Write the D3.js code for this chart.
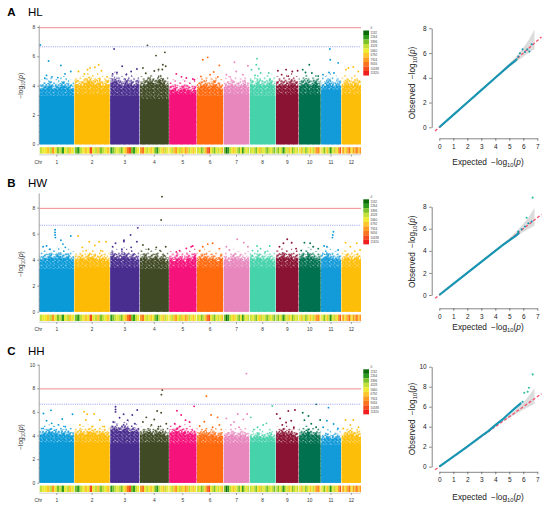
<!DOCTYPE html>
<html>
<head>
<meta charset="utf-8">
<script src="https://cdn.jsdelivr.net/npm/d3@7"></script>
<style>
body { margin: 0; background: #fff; }
svg { display: block; font-family: "Liberation Sans", Arial, sans-serif; }
</style>
</head>
<body>
<svg id="chart" width="550" height="510"></svg>
<script>
// ---- chromosomes ----
const chromosomes = ['1', '2', '3', '4', '5', '6', '7', '8', '9', '10', '11', '12'];
const chrLength = [34.5, 35.2, 29.2, 28.8, 27.2, 26.2, 25.6, 25.6, 22.4, 21.5, 19.9, 19.5];
const chrColors = ['#0b9ad8', '#fdbb06', '#4a2e8f', '#404b25', '#f5137b', '#ff6a0e',
                   '#e887be', '#46d2aa', '#8a1232', '#00714e', '#129ad9', '#fdbe0a'];

// ---- SNP density legend + strip (bin index 0..9) ----
const densityLabels = ['0', '1132', '2264', '3396', '4528', '5660', '6792', '7924', '9056', '10188', '11320'];
const densityColors = ['#0b6b0b', '#2c9a1d', '#7cc22b', '#c3e03a', '#eeea30',
                       '#fdc62a', '#fc9a22', '#f9741d', '#f54a1c', '#f01e1e'];
const densityStrip = [
  [3, 4, 4, 5, 3, 6, 4, 2, 3, 1, 4, 3, 5, 4],
  [2, 1, 3, 4, 5, 4, 8, 4, 3, 5, 2, 3, 4, 5],
  [1, 2, 3, 4, 3, 2, 4, 5, 7, 8, 2, 1, 3, 4],
  [6, 7, 4, 3, 4, 5, 4, 2, 1, 3, 4, 5, 3, 4],
  [4, 3, 5, 6, 4, 3, 5, 4, 6, 5, 3, 4, 5, 4],
  [3, 4, 2, 3, 5, 7, 8, 4, 3, 2, 4, 3, 4, 5],
  [2, 0, 1, 3, 4, 5, 4, 3, 2, 4, 1, 3, 4, 3],
  [3, 4, 3, 2, 4, 5, 3, 4, 3, 2, 3, 4, 3, 2],
  [3, 2, 4, 3, 1, 2, 4, 3, 5, 4, 2, 3, 4, 3],
  [4, 5, 3, 4, 2, 3, 4, 5, 4, 3, 5, 6, 7, 5],
  [4, 3, 2, 4, 5, 3, 1, 2, 4, 3, 5, 4, 6, 8],
  [5, 6, 4, 5, 6, 7, 5, 4, 6, 5, 7, 6, 5, 6]
];

// suggestive / significant thresholds (-log10 p)
const thresholds = [6.65, 7.95];

const traits = ['HL', 'HW', 'HH'];
const panelLetters = ['A', 'B', 'C'];

// ---- Manhattan: solid core top, cloud top (8 steps per chr), single hits [chr, pos 0-1, -log10p] ----
const yTicksHL = [0, 2, 4, 6, 8];
const coreHL = [3.3, 3.4, 3.3, 3.1, 3.4, 3.3, 3.4, 3.3, 3.4, 3.4, 3.7, 3.4];
const fuzzHL = [
  [4.1, 4.2, 4.3, 4.1, 4.2, 4.3, 4.2, 4.1], [4.4, 4.3, 4.5, 4.6, 4.4, 4.5, 4.3, 4.4],
  [4.5, 4.6, 4.4, 4.3, 4.5, 4.4, 4.3, 4.4], [4.3, 4.4, 4.6, 4.5, 4.4, 4.7, 4.5, 4.3],
  [4.0, 4.1, 3.9, 4.0, 4.1, 4.0, 3.9, 4.0], [4.2, 4.3, 4.4, 4.2, 4.3, 4.4, 4.2, 4.1],
  [4.2, 4.3, 4.4, 4.3, 4.2, 4.3, 4.4, 4.2], [4.4, 4.3, 4.5, 4.4, 4.3, 4.4, 4.5, 4.3],
  [4.3, 4.4, 4.3, 4.4, 4.3, 4.5, 4.4, 4.3], [4.3, 4.4, 4.5, 4.4, 4.3, 4.4, 4.5, 4.3],
  [4.2, 4.3, 4.4, 4.5, 4.3, 4.2, 4.4, 4.3], [4.3, 4.4, 4.5, 4.4, 4.3, 4.5, 4.4, 4.3]
];
const hitsHL = [
  [1, .02, 6.78], [1, .26, 5.68], [1, .62, 5.38], [1, .2, 4.7], [1, .36, 4.6], [1, .91, 4.97], [1, .74, 4.8], [1, .15, 4.5], [1, .53, 4.55],
  [2, .69, 5.43], [2, .58, 5.25], [2, .44, 5.2], [2, .37, 5.09], [2, .11, 4.97], [2, .77, 5.02], [2, .28, 4.8], [2, .93, 4.6],
  [3, .13, 6.5], [3, .41, 5.32], [3, .23, 4.9], [3, .72, 4.97], [3, .92, 5.14], [3, .08, 4.8], [3, .55, 4.75],
  [4, .26, 6.75], [4, .87, 6.27], [4, .56, 6.05], [4, .8, 5.43], [4, .9, 5.32], [4, .1, 5.2], [4, .78, 5.1], [4, .5, 5.0], [4, .65, 5.1], [4, .2, 4.85],
  [5, .63, 4.52], [5, .87, 4.45], [5, .26, 4.8], [5, .93, 4.4], [5, .45, 4.6],
  [6, .41, 5.93], [6, .22, 5.77], [6, .86, 5.38], [6, .64, 4.93], [6, .15, 4.63], [6, .5, 4.75], [6, .8, 4.6],
  [7, .42, 5.6], [7, .95, 5.36], [7, .49, 4.97], [7, .1, 4.75], [7, .75, 4.75], [7, .25, 4.6],
  [8, .28, 5.84], [8, .25, 5.43], [8, .42, 4.86], [8, .06, 5.09], [8, .35, 5.15], [8, .74, 4.86], [8, .2, 4.7],
  [9, .08, 5.02], [9, .45, 5.09], [9, .73, 4.97], [9, .97, 5.02], [9, .25, 4.75], [9, .55, 4.65],
  [10, .48, 5.43], [10, .17, 5.09], [10, .3, 4.9], [10, .6, 4.86], [10, .9, 4.65],
  [11, .44, 6.5], [11, .46, 5.77], [11, .86, 5.55], [11, .09, 4.75], [11, .4, 4.9], [11, .65, 4.86],
  [12, .22, 5.09], [12, .6, 5.27], [12, .35, 5.2], [12, .86, 4.97]
];

const yTicksHW = [0, 2, 4, 6, 8];
const coreHW = [3.3, 3.4, 3.4, 3.3, 3.4, 3.4, 3.4, 3.4, 3.4, 3.4, 3.4, 3.4];
const fuzzHW = [
  [4.3, 4.4, 4.5, 4.4, 4.6, 4.4, 4.5, 4.3], [4.3, 4.4, 4.3, 4.5, 4.4, 4.3, 4.4, 4.2],
  [4.6, 4.5, 4.4, 4.6, 4.5, 4.4, 4.5, 4.3], [4.4, 4.5, 4.3, 4.4, 4.5, 4.3, 4.4, 4.2],
  [4.3, 4.2, 4.4, 4.3, 4.2, 4.4, 4.3, 4.5], [4.3, 4.4, 4.5, 4.3, 4.4, 4.3, 4.2, 4.4],
  [4.3, 4.2, 4.4, 4.5, 4.3, 4.4, 4.2, 4.3], [4.4, 4.3, 4.5, 4.4, 4.3, 4.4, 4.3, 4.2],
  [4.4, 4.5, 4.6, 4.5, 4.4, 4.5, 4.3, 4.4], [4.4, 4.5, 4.4, 4.6, 4.5, 4.4, 4.3, 4.4],
  [4.4, 4.5, 4.6, 4.5, 4.4, 4.3, 4.4, 4.3], [4.3, 4.4, 4.5, 4.4, 4.3, 4.4, 4.5, 4.3]
];
const hitsHW = [
  [1, .45, 6.3], [1, .45, 6.1], [1, .45, 5.9], [1, .46, 5.7], [1, .62, 5.5], [1, .91, 5.82], [1, .2, 5.05], [1, .1, 5.0], [1, .68, 5.2], [1, .3, 4.8], [1, .75, 4.95],
  [2, .1, 5.82], [2, .42, 5.38], [2, .7, 5.38], [2, .9, 5.38], [2, .58, 5.1], [2, .22, 4.95], [2, .75, 4.7], [2, .33, 4.7],
  [3, .95, 6.45], [3, .7, 5.9], [3, .47, 5.5], [3, .47, 5.4], [3, .18, 5.26], [3, .92, 5.38], [3, .08, 5.0], [3, .4, 4.8], [3, .72, 4.95],
  [4, .77, 8.85], [4, .74, 7.05], [4, .1, 5.13], [4, .57, 4.95], [4, .9, 5.0], [4, .3, 4.8], [4, .7, 4.7],
  [5, .87, 5.05], [5, .63, 4.87], [5, .38, 4.7], [5, .26, 4.6], [5, .81, 5.0],
  [6, .41, 5.2], [6, .6, 5.26], [6, .22, 5.0], [6, .86, 4.85], [6, .1, 4.7],
  [7, .53, 5.57], [7, .79, 5.31], [7, .22, 4.75], [7, .1, 5.0], [7, .95, 5.0],
  [8, .28, 5.05], [8, .78, 5.05], [8, .42, 4.85], [8, .1, 4.7], [8, .6, 4.6],
  [9, .5, 5.57], [9, .33, 5.26], [9, .7, 5.3], [9, .15, 5.0], [9, .9, 4.85],
  [10, .25, 5.31], [10, .52, 5.26], [10, .66, 5.0], [10, .1, 4.7], [10, .9, 4.85],
  [11, .62, 6.15], [11, .59, 5.9], [11, .57, 5.7], [11, .29, 5.0], [11, .86, 4.75], [11, .15, 5.05],
  [12, .2, 5.31], [12, .78, 5.26], [12, .45, 5.0], [12, .95, 4.75]
];

const yTicksHH = [0, 2, 4, 6, 8, 10];
const coreHH = [3.4, 3.4, 3.3, 3.4, 3.3, 3.3, 3.3, 3.4, 3.3, 3.3, 3.2, 3.3];
const fuzzHH = [
  [4.4, 4.5, 4.6, 4.5, 4.4, 4.5, 4.4, 4.3], [4.4, 4.5, 4.4, 4.6, 4.5, 4.4, 4.5, 4.3],
  [4.8, 4.9, 4.7, 4.8, 4.9, 4.6, 4.7, 4.6], [4.4, 4.5, 4.6, 4.4, 4.5, 4.6, 4.4, 4.3],
  [4.5, 4.6, 4.7, 4.5, 4.6, 4.4, 4.5, 4.4], [4.3, 4.4, 4.5, 4.3, 4.4, 4.3, 4.2, 4.3],
  [4.2, 4.3, 4.4, 4.3, 4.2, 4.4, 4.3, 4.2], [4.1, 4.2, 4.3, 4.2, 4.1, 4.2, 4.3, 4.1],
  [4.4, 4.5, 4.6, 4.5, 4.4, 4.5, 4.3, 4.2], [4.3, 4.4, 4.5, 4.6, 4.4, 4.3, 4.4, 4.3],
  [4.0, 4.1, 4.2, 4.1, 4.0, 4.1, 4.2, 4.0], [4.2, 4.3, 4.4, 4.5, 4.4, 4.3, 4.4, 4.2]
];
const hitsHH = [
  [1, .33, 6.13], [1, .11, 5.87], [1, .96, 5.8], [1, .66, 5.4], [1, .2, 5.25], [1, .35, 5.03], [1, .55, 4.9], [1, .75, 4.75], [1, .1, 4.6],
  [2, .27, 6.02], [2, .56, 5.82], [2, .36, 5.8], [2, .32, 5.31], [2, .72, 5.31], [2, .15, 4.9], [2, .85, 4.75], [2, .5, 4.75],
  [3, .18, 6.44], [3, .18, 6.2], [3, .18, 6.0], [3, .46, 5.8], [3, .93, 6.16], [3, .76, 5.74], [3, .32, 5.5], [3, .6, 5.3], [3, .1, 5.15], [3, .46, 4.9], [3, .85, 5.0],
  [4, .78, 7.86], [4, .75, 7.46], [4, .6, 6.08], [4, .74, 5.93], [4, .22, 5.54], [4, .5, 5.35], [4, .1, 5.15], [4, .92, 5.0], [4, .4, 4.9], [4, .65, 4.75],
  [5, .28, 6.1], [5, .44, 5.74], [5, .92, 6.47], [5, .6, 5.3], [5, .2, 5.0], [5, .75, 5.15], [5, .38, 4.75],
  [6, .36, 7.32], [6, .54, 5.74], [6, .79, 5.54], [6, .28, 5.17], [6, .1, 4.8], [6, .6, 4.7], [6, .86, 4.9],
  [7, .89, 9.24], [7, .55, 5.82], [7, .77, 5.37], [7, .92, 5.82], [7, .1, 5.45], [7, .28, 4.9], [7, .6, 4.7], [7, .4, 5.15],
  [8, .03, 5.54], [8, .88, 6.5], [8, .65, 5.03], [8, .3, 4.7], [8, .52, 4.9], [8, .15, 4.5],
  [9, .03, 5.82], [9, .55, 6.08], [9, .85, 6.16], [9, .18, 5.45], [9, .45, 5.1], [9, .68, 5.25], [9, .28, 4.9], [9, .8, 4.7],
  [10, .8, 6.64], [10, .17, 5.93], [10, .44, 5.65], [10, .99, 5.31], [10, .25, 5.3], [10, .57, 5.0], [10, .8, 4.7],
  [11, .37, 6.36], [11, .29, 5.25], [11, .63, 4.97], [11, .1, 4.7], [11, .85, 4.6],
  [12, .2, 5.31], [12, .6, 5.31], [12, .45, 4.9], [12, .87, 4.7], [12, .08, 4.6]
];

// ---- QQ plots: [expected, observed] ----
const qqTicksX = [0, 1, 2, 3, 4, 5, 6, 7];
const qqCurveHL = [[0, 0], [1, 1], [2, 2], [3, 3], [4, 4], [5, 5], [5.5, 5.45]];
const qqTailHL = [[5.52, 5.5], [5.64, 5.71], [5.76, 5.98], [5.95, 6.3], [6.12, 6.09], [6.29, 6.3], [6.43, 6.12], [6.6, 6.71]];
const qqCurveHW = [[0, 0], [1, 1], [2, 2], [3, 3], [4, 4], [4.5, 4.5], [5, 4.95], [5.5, 5.4], [5.7, 5.65]];
const qqTailHW = [[5.64, 5.74], [5.88, 5.95], [6.12, 6.2], [6.24, 7.0], [6.36, 6.5], [6.6, 6.65], [6.67, 8.82]];
const qqCurveHH = [[0, 0], [1, 1], [2, 2], [3, 3.05], [3.5, 3.55], [4, 4.15], [4.5, 4.7], [5, 5.35], [5.5, 5.95], [5.8, 6.3]];
const qqTailHH = [[5.81, 6.33], [5.95, 6.5], [6.07, 7.4], [6.31, 7.5], [6.4, 7.9], [6.67, 9.23]];
// 95% band (expected, upper, lower)
const qqBand = [[4.6, 4.7, 4.5], [5, 5.15, 4.85], [5.5, 5.75, 5.3], [6, 6.45, 5.7], [6.4, 7.1, 6.0], [6.8, 7.9, 6.3]];

const panelData = [
  { core: coreHL, fuzz: fuzzHL, hits: hitsHL, yTicks: yTicksHL, qqCurve: qqCurveHL, qqTail: qqTailHL },
  { core: coreHW, fuzz: fuzzHW, hits: hitsHW, yTicks: yTicksHW, qqCurve: qqCurveHW, qqTail: qqTailHW },
  { core: coreHH, fuzz: fuzzHH, hits: hitsHH, yTicks: yTicksHH, qqCurve: qqCurveHH, qqTail: qqTailHH }
];

// page positions of each row
const panelLayout = [
  { letterY: 15.7, y0: 144.3, yTop: 27.0, axisTop: 8.1, ylabY: 85.7, legTop: 30.5,
    qqY0: 127.3, qqYTop: 28.3, qqAxisY: 138.3, qqLabY: 164.5, qqObsY: 83 },
  { letterY: 186.7, y0: 311.7, yTop: 207.7, axisTop: 9.1, ylabY: 264, legTop: 199.3,
    qqY0: 295, qqYTop: 206.7, qqAxisY: 308.3, qqLabY: 329.5, qqObsY: 251.7 },
  { letterY: 355, y0: 482.7, yTop: 364.7, axisTop: 10, ylabY: 437, legTop: 369.3,
    qqY0: 466.7, qqYTop: 366.7, qqAxisY: 471.8, qqLabY: 500, qqObsY: 419 }
];

const svg = d3.select('#chart');
const defs = svg.append('defs');

// 点云纹理: dense / sparse / halo
chrColors.forEach((c, i) => {
  const dense = defs.append('pattern').attr('id', `dense${i}`)
    .attr('patternUnits', 'userSpaceOnUse').attr('width', 4).attr('height', 3.6);
  [[0, 0, 2.6, 1.8], [2.2, 1.6, 1.8, 2.0], [0, 2.2, 1.6, 1.4], [3.1, 0, 0.9, 1.2]].forEach(r => {
    dense.append('rect').attr('x', r[0]).attr('y', r[1]).attr('width', r[2]).attr('height', r[3]).attr('fill', c);
  });
  const sparse = defs.append('pattern').attr('id', `sparse${i}`)
    .attr('patternUnits', 'userSpaceOnUse').attr('width', 6.3).attr('height', 5.1);
  [[0, 0], [3.1, 1.1], [1.4, 2.6], [4.4, 3.5], [2.5, 4.2], [5.1, 0.3], [4.6, 2.1], [0.3, 3.9]].forEach(p => {
    sparse.append('rect').attr('x', p[0]).attr('y', p[1]).attr('width', 1.5).attr('height', 1.5).attr('fill', c);
  });
  const halo = defs.append('pattern').attr('id', `halo${i}`)
    .attr('patternUnits', 'userSpaceOnUse').attr('width', 9.7).attr('height', 7.3);
  [[0.5, 0.8], [5.6, 2.9], [2.7, 5.2], [7.9, 6.1]].forEach(p => {
    halo.append('circle').attr('cx', p[0]).attr('cy', p[1]).attr('r', 0.8).attr('fill', c);
  });
});

// 染色体起点
const gap = 0.8;
const chrStart = [];
chrLength.reduce((acc, len) => { chrStart.push(acc); return acc + len + gap; }, 0);
const total = chrStart[11] + chrLength[11];
const x = d3.scaleLinear().domain([0, total]).range([39.7, 361]);
const posX = (chr, f) => x(chrStart[chr] + f * chrLength[chr]);

function logLabel(text, prefix, size) {
  text.append('tspan').text(prefix + '\u2212log');
  text.append('tspan').attr('font-size', size * 0.7).attr('dy', size * 0.28).text('10');
  text.append('tspan').attr('dy', -size * 0.28).text('(');
  text.append('tspan').attr('font-style', 'italic').text('p');
  text.append('tspan').text(')');
}

panelData.forEach((d, pi) => {
  const L = panelLayout[pi];
  const g = svg.append('g');
  const maxTick = d.yTicks[d.yTicks.length - 1];
  const y = d3.scaleLinear().domain([0, maxTick]).range([L.y0, L.yTop]);

  // panel title
  g.append('text').attr('x', 7.3).attr('y', L.letterY).attr('font-size', 11.5)
    .attr('font-weight', 'bold').text(panelLetters[pi]);
  g.append('text').attr('x', 28).attr('y', L.letterY).attr('font-size', 11.5).text(traits[pi]);

  // chromosome clouds
  chromosomes.forEach((name, ci) => {
    const steps = d.fuzz[ci].map((v, k) => [k / d.fuzz[ci].length, v]);
    steps.push([1, d.fuzz[ci][d.fuzz[ci].length - 1]]);
    const area = off => d3.area()
      .x(s => posX(ci, s[0]))
      .y0(y(0))
      .y1(s => y(Math.max(d.core[ci], s[1] - off)))
      .curve(d3.curveStepAfter);
    g.append('path').attr('d', area(-0.35)(steps)).attr('fill', `url(#halo${ci})`);
    g.append('path').attr('d', area(0)(steps)).attr('fill', `url(#sparse${ci})`);
    g.append('path').attr('d', area(0.3)(steps)).attr('fill', `url(#dense${ci})`);
    g.append('rect')
      .attr('x', posX(ci, 0)).attr('width', posX(ci, 1) - posX(ci, 0))
      .attr('y', y(d.core[ci])).attr('height', y(0) - y(d.core[ci]))
      .attr('fill', chrColors[ci]);
  });

  g.selectAll('circle.hit').data(d.hits).enter().append('circle')
    .attr('class', 'hit')
    .attr('cx', h => posX(h[0] - 1, h[1]))
    .attr('cy', h => y(h[2]))
    .attr('r', 0.95)
    .attr('fill', h => chrColors[h[0] - 1]);

  // threshold lines
  g.append('line').attr('x1', 39.7).attr('x2', 361)
    .attr('y1', y(thresholds[1])).attr('y2', y(thresholds[1]))
    .attr('stroke', '#f08c8c').attr('stroke-width', 1);
  g.append('line').attr('x1', 39.7).attr('x2', 361)
    .attr('y1', y(thresholds[0])).attr('y2', y(thresholds[0]))
    .attr('stroke', '#8f8ff0').attr('stroke-width', 0.9).attr('stroke-dasharray', '1,1.2');

  // y axis
  g.append('line').attr('x1', 39.2).attr('x2', 39.2)
    .attr('y1', y(0)).attr('y2', y(L.axisTop)).attr('stroke', '#444').attr('stroke-width', 0.5);
  const ya = g.append('g').attr('transform', 'translate(39.2,0)')
    .call(d3.axisLeft(y).tickValues(d.yTicks).tickFormat(d3.format('d')).tickSize(2).tickPadding(2));
  ya.select('.domain').remove();
  ya.selectAll('line').attr('stroke', '#444').attr('stroke-width', 0.5);
  ya.selectAll('text').attr('font-size', 4.8).attr('fill', '#333').attr('font-family', null);

  const ylab = g.append('text')
    .attr('transform', `translate(23,${L.ylabY}) rotate(-90)`)
    .attr('text-anchor', 'middle').attr('font-size', 6.5).attr('fill', '#333');
  logLabel(ylab, '', 6.5);

  // density strip
  const sTop = L.y0 + 2.9, sH = 6.4;
  chromosomes.forEach((name, ci) => {
    const cells = densityStrip[ci];
    const x0 = posX(ci, 0), w = posX(ci, 1) - x0;
    cells.forEach((b, k) => {
      g.append('rect')
        .attr('x', x0 + w * k / cells.length).attr('width', w / cells.length + 0.05)
        .attr('y', sTop).attr('height', sH)
        .attr('fill', densityColors[b]);
    });
  });

  // x axis
  const axY = sTop + sH + 1.2;
  g.append('line').attr('x1', 39.2).attr('x2', 361).attr('y1', axY).attr('y2', axY)
    .attr('stroke', '#888').attr('stroke-width', 0.4);
  chromosomes.forEach((name, ci) => {
    const cx = posX(ci, 0.5);
    g.append('line').attr('x1', cx).attr('x2', cx).attr('y1', axY).attr('y2', axY + 1.8)
      .attr('stroke', '#444').attr('stroke-width', 0.5);
    g.append('text').attr('x', cx).attr('y', axY + 9.2).attr('text-anchor', 'middle')
      .attr('font-size', 4.8).attr('fill', '#333').text(name);
  });
  g.append('text').attr('x', 38.3).attr('y', axY + 9.2).attr('text-anchor', 'middle')
    .attr('font-size', 4.8).attr('fill', '#333').text('Chr');

  // density legend
  const lh = 4.5;
  densityColors.forEach((c, k) => {
    g.append('rect').attr('x', 363.3).attr('y', L.legTop + k * lh)
      .attr('width', 5.7).attr('height', lh + 0.05).attr('fill', c);
  });
  densityLabels.forEach((t, k) => {
    g.append('text').attr('x', 370.5).attr('y', L.legTop + (k - 0.5) * lh + 1.1)
      .attr('font-size', 3).attr('fill', '#444').text(t);
  });

  // ---- QQ plot ----
  const qx = d3.scaleLinear().domain([0, 7]).range([439.3, 537.3]);
  const qy = d3.scaleLinear().domain([0, maxTick]).range([L.qqY0, L.qqYTop]);

  g.append('path').datum(qqBand)
    .attr('d', d3.area().x(b => qx(b[0])).y0(b => qy(b[2])).y1(b => qy(b[1])).curve(d3.curveMonotoneX))
    .attr('fill', '#dcdcdc');
  g.append('line')
    .attr('x1', qx(-0.3)).attr('y1', qy(-0.3)).attr('x2', qx(7.3)).attr('y2', qy(7.3))
    .attr('stroke', '#f4506a').attr('stroke-width', 1.3).attr('stroke-dasharray', '3,2');
  g.append('path').datum(d.qqCurve)
    .attr('d', d3.line().x(p => qx(p[0])).y(p => qy(p[1])))
    .attr('fill', 'none').attr('stroke', '#1795b2').attr('stroke-width', 2.2);
  g.selectAll('circle.qq').data(d.qqTail).enter().append('circle')
    .attr('class', 'qq')
    .attr('cx', p => qx(p[0])).attr('cy', p => qy(p[1])).attr('r', 1.05)
    .attr('fill', p => p[1] > 6.8 ? '#2fbf9f' : '#1a9cb0');

  const qxa = g.append('g').attr('transform', `translate(0,${L.qqAxisY})`)
    .call(d3.axisBottom(qx).tickValues(qqTicksX).tickFormat(d3.format('d'))
      .tickSize(2.5).tickSizeOuter(0).tickPadding(3.5));
  const qya = g.append('g').attr('transform', 'translate(431.7,0)')
    .call(d3.axisLeft(qy).tickValues(d.yTicks).tickFormat(d3.format('d'))
      .tickSize(2.5).tickSizeOuter(0).tickPadding(2.5));
  [qxa, qya].forEach(a => {
    a.select('.domain').attr('stroke', '#333').attr('stroke-width', 0.6);
    a.selectAll('line').attr('stroke', '#333').attr('stroke-width', 0.6);
    a.selectAll('text').attr('font-size', 6.5).attr('fill', '#222').attr('font-family', null);
  });

  const exp = g.append('text').attr('x', 488).attr('y', L.qqLabY)
    .attr('text-anchor', 'middle').attr('font-size', 8.3).attr('fill', '#222');
  logLabel(exp, 'Expected\u2002', 8.3);
  const obs = g.append('text').attr('transform', `translate(414.5,${L.qqObsY}) rotate(-90)`)
    .attr('text-anchor', 'middle').attr('font-size', 8.3).attr('fill', '#222');
  logLabel(obs, 'Observed\u2002', 8.3);
});
</script>
</body>
</html>
